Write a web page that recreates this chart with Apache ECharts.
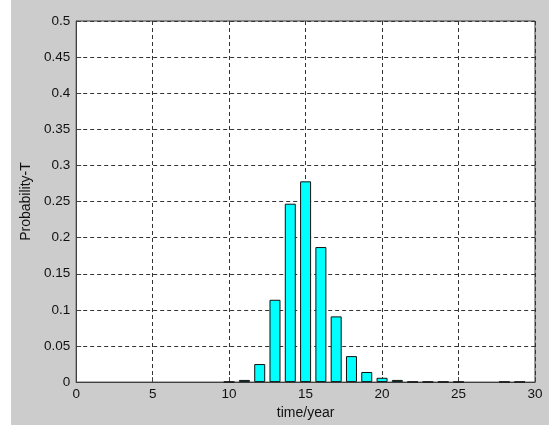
<!DOCTYPE html>
<html>
<head>
<meta charset="utf-8">
<script src="https://cdn.jsdelivr.net/npm/echarts@6/dist/echarts.min.js"></script>
<style>
html,body{margin:0;padding:0;background:#ffffff;}
#chart{position:absolute;left:11px;top:0;width:538px;height:425px;}
</style>
</head>
<body>
<div id="chart"></div>
<script>
const years = [10, 11, 12, 13, 14, 15, 16, 17, 18, 19, 20, 21, 22, 23, 24, 25, 28, 29];
const probs = [0.0005, 0.003, 0.025, 0.114, 0.247, 0.278, 0.187, 0.091, 0.036, 0.014, 0.006, 0.003, 0.0005, 0.0005, 0.0005, 0.0005, 0.0005, 0.0005];
const xTicks = { min: 0, max: 30, step: 5 };
const yTicks = { min: 0, max: 0.5, step: 0.05 };
const xName = 'time/year';
const yName = 'Probability-T';

const chart = echarts.init(document.getElementById('chart'), null, { renderer: 'canvas' });
const tickFont = { color: '#111111', fontSize: 13.5, fontFamily: '"Liberation Sans", Arial, sans-serif' };
const nameFont = { color: '#111111', fontSize: 14, fontFamily: '"Liberation Sans", Arial, sans-serif' };
const gridLine = { show: true, lineStyle: { color: '#333333', type: [4, 3], width: 1 } };
chart.setOption({
  backgroundColor: '#cccccc',
  animation: false,
  grid: { left: 65, right: 14, top: 21, bottom: 42, show: true, backgroundColor: '#ffffff', borderColor: '#404040', borderWidth: 1 },
  xAxis: {
    type: 'value', min: xTicks.min, max: xTicks.max, interval: xTicks.step,
    name: xName, nameLocation: 'middle', nameGap: 22, nameTextStyle: nameFont,
    axisLine: { show: true, lineStyle: { color: '#404040', width: 1 } },
    axisTick: { show: true, inside: true, length: 5, lineStyle: { color: '#404040' } },
    axisLabel: Object.assign({ margin: 5 }, tickFont),
    splitLine: gridLine
  },
  yAxis: {
    type: 'value', min: yTicks.min, max: yTicks.max, interval: yTicks.step,
    name: yName, nameLocation: 'middle', nameGap: 41, nameTextStyle: nameFont,
    axisLine: { show: true, lineStyle: { color: '#404040', width: 1 } },
    axisTick: { show: true, inside: true, length: 5, lineStyle: { color: '#404040' } },
    axisLabel: Object.assign({ margin: 6, formatter: v => String(+v.toFixed(2)) }, tickFont),
    splitLine: gridLine
  },
  series: [{
    type: 'bar',
    data: years.map((y, i) => [y, probs[i]]),
    barWidth: 11,
    itemStyle: { color: '#00ffff', borderColor: '#111111', borderWidth: 1 }
  }]
});
</script>
</body>
</html>
